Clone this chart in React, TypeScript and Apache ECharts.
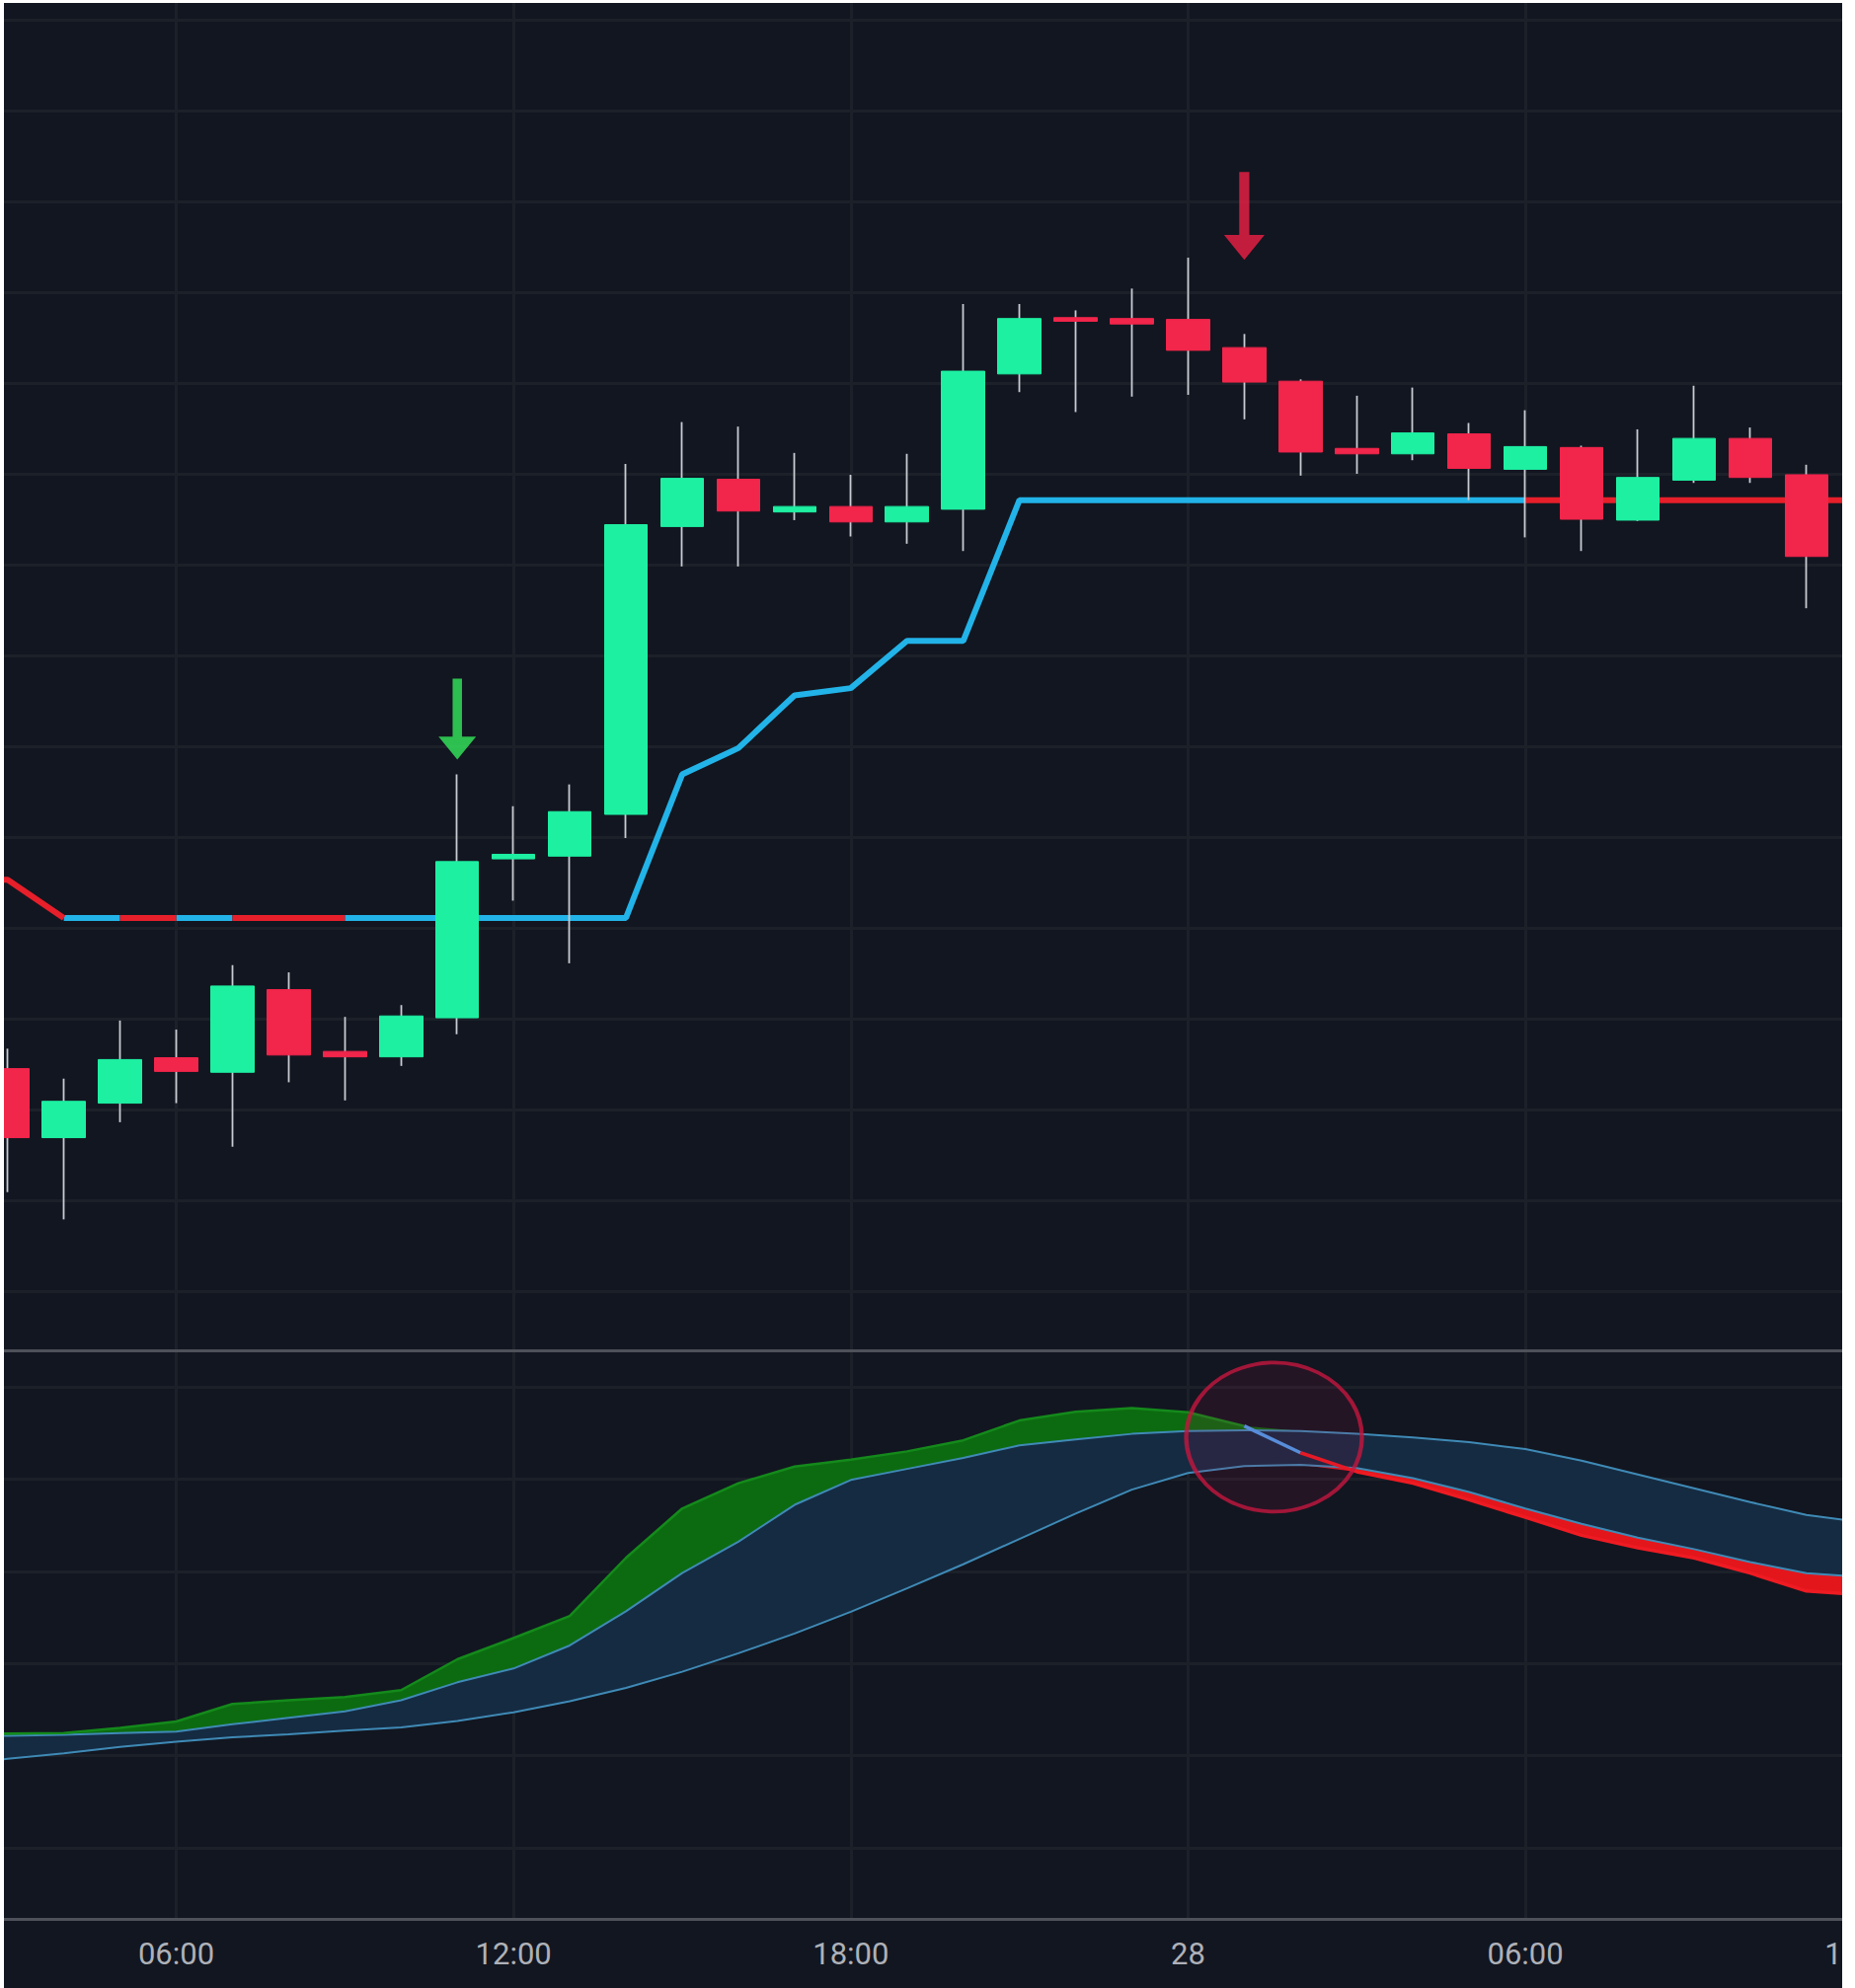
import React, { useEffect, useRef } from 'react';
import * as echarts from 'echarts';

// ---------- data (hours counted from the 27th 00:00) ----------
const candleHours = [3, 4, 5, 6, 7, 8, 9, 10, 11, 12, 13, 14, 15, 16, 17, 18, 19, 20, 21, 22, 23, 24, 25, 26, 27, 28, 29, 30, 31, 32, 33, 34, 35];
const opens = [124.5, 116.9, 120.7, 125.7, 124.1, 133.2, 126.4, 125.8, 130.1, 147.6, 147.9, 152.5, 184.2, 189.4, 185.8, 186.4, 184.7, 186.1, 201.0, 207.2, 207.1, 207.0, 203.9, 200.2, 192.8, 192.2, 194.4, 190.5, 192.9, 184.9, 189.3, 193.9, 189.9];
const closes = [116.9, 120.9, 125.5, 124.2, 133.6, 126.0, 125.8, 130.3, 147.3, 148.1, 152.8, 184.4, 189.5, 185.9, 186.4, 184.7, 186.4, 201.3, 207.1, 206.8, 206.5, 203.6, 200.1, 192.4, 192.2, 194.5, 190.6, 193.0, 185.0, 189.6, 193.9, 189.6, 180.9];
const highs = [126.7, 123.4, 129.8, 128.8, 135.9, 135.1, 130.2, 131.5, 156.9, 153.4, 155.8, 191.1, 195.7, 195.2, 192.3, 189.9, 192.2, 208.7, 208.7, 208.0, 210.4, 213.8, 205.4, 200.4, 198.6, 199.5, 195.6, 197.0, 193.1, 194.9, 199.7, 195.1, 191.0];
const lows = [110.9, 107.9, 118.6, 120.7, 115.9, 123.0, 121.0, 124.8, 128.3, 143.0, 136.1, 149.9, 179.8, 179.8, 184.9, 183.1, 182.3, 181.5, 199.0, 196.8, 198.5, 198.7, 196.0, 189.8, 190.0, 191.5, 187.1, 183.0, 181.5, 184.8, 189.0, 189.0, 175.2];

const lineHours = [2, 3, 4, 5, 6, 7, 8, 9, 10, 11, 12, 13, 14, 15, 16, 17, 18, 19, 20, 21, 22, 23, 24, 25, 26, 27, 28, 29, 30, 31, 32, 33, 34, 35, 36];
const supertrend = [145.4, 145.3, 141.1, 141.1, 141.1, 141.1, 141.1, 141.1, 141.1, 141.1, 141.1, 141.1, 141.1, 156.9, 159.8, 165.6, 166.4, 171.6, 171.6, 187.1, 187.1, 187.1, 187.1, 187.1, 187.1, 187.1, 187.1, 187.1, 187.1, 187.1, 187.1, 187.1, 187.1, 187.1, 187.1];
// trend of each segment between consecutive lineHours
const supertrendTrend = ['down', 'down', 'up', 'down', 'up', 'down', 'down',
  'up', 'up', 'up', 'up', 'up', 'up', 'up', 'up', 'up', 'up', 'up', 'up', 'up', 'up', 'up', 'up', 'up', 'up', 'up', 'up', 'up',
  'down', 'down', 'down', 'down', 'down', 'down'];

const fastLine = [-15.4, -15.2, -15.1, -14.0, -12.6, -8.8, -8.0, -7.3, -5.8, 0.9, 5.5, 10.3, 22.9, 33.6, 39.1, 42.7, 44.2, 46.0, 48.4, 52.7, 54.6, 55.4, 54.5, 51.5, 45.7, 41.6, 39.1, 35.5, 31.7, 27.8, 25.1, 22.9, 19.6, 15.7, 14.9];
const cloudUpper = [-15.9, -15.7, -15.5, -15.1, -14.8, -13.2, -11.8, -10.4, -8.0, -4.1, -1.1, 3.9, 11.3, 19.6, 26.4, 34.4, 39.8, 42.2, 44.6, 47.3, 48.6, 49.8, 50.4, 50.6, 50.4, 49.8, 49.0, 48.0, 46.5, 44.0, 41.0, 38.0, 35.0, 32.2, 30.6];
const cloudLower = [-22.0, -20.7, -19.5, -18.1, -17.0, -16.0, -15.4, -14.6, -13.9, -12.5, -10.6, -8.2, -5.3, -1.8, 2.2, 6.5, 11.2, 16.3, 21.5, 27.0, 32.5, 37.7, 41.3, 42.8, 43.1, 42.4, 40.2, 37.2, 33.6, 30.3, 27.3, 24.8, 22.0, 19.6, 18.7];
const fastTrend = ['bull', 'bull', 'bull', 'bull', 'bull', 'bull', 'bull', 'bull', 'bull', 'bull', 'bull', 'bull', 'bull', 'bull', 'bull', 'bull', 'bull', 'bull', 'bull', 'bull', 'bull', 'bull', 'bull',
  'neutral',
  'bear', 'bear', 'bear', 'bear', 'bear', 'bear', 'bear', 'bear', 'bear', 'bear'];

const buySignal = [11, 163.0];
const sellSignal = [25, 218.4];
const crossMark = [25.53, 49.1];

const tickHours = [6, 12, 18, 24, 30, 36];
const tickLabels = ['06:00', '12:00', '18:00', '28', '06:00', '12:00'];
const priceTicks = [100, 110, 120, 130, 140, 150, 160, 170, 180, 190, 200, 210, 220, 230, 240];
const oscTicks = [-40, -20, 0, 20, 40, 60];

// ---------- styling / layout ----------
const BG = '#121620';
const GRID_COLOR = '#1c2029';
const SEP_COLOR = '#4e5159';
const UP = '#1ef0a2';
const DOWN = '#f2254b';
const WICK = '#c8cbd1';
const ST_UP = '#22b3e8';
const ST_DOWN = '#e61f2a';
const CLOUD_LINE = '#3f8ab6';
const CLOUD_FILL = '#152b42';
const BULL_FILL = '#0c6b10';
const BEAR_FILL = '#e3161c';

const CHART_W = 1960;
const CHART_H = 2011;
const VISIBLE_W = 1862;
const PX_PER_HOUR = 56.94;
const X_MIN = 2.935;
const X_MAX = X_MIN + CHART_W / PX_PER_HOUR;

function segmentData(xs: number[], ys: number[], segs: string[], key: string) {
  const out: any[] = [];
  for (let k = 0; k < segs.length; k++) {
    if (segs[k] !== key) continue;
    const prevSame = k > 0 && segs[k - 1] === key;
    if (!prevSame) {
      if (out.length) out.push([xs[k], null]);
      out.push([xs[k], ys[k]]);
    }
    out.push([xs[k + 1], ys[k + 1]]);
  }
  return out;
}

// filled band between two oscillator lines, drawn as one polygon through the axes' scales
function bandSeries(lower: number[], upper: number[], color: string, z: number) {
  return {
    type: 'custom', xAxisIndex: 1, yAxisIndex: 1, z, silent: true,
    data: lineHours.map((t, i) => [t, lower[i], upper[i]]),
    encode: { x: 0, y: [1, 2] },
    renderItem: (params: any, api: any) => {
      if (params.dataIndex !== 0) return null;
      const top = lineHours.map((t, i) => api.coord([t, upper[i]]));
      const bottom = lineHours.map((t, i) => api.coord([t, lower[i]])).reverse();
      return { type: 'polygon', shape: { points: top.concat(bottom) }, style: { fill: color } };
    },
  };
}

function buildOption() {
  const wickData = candleHours.map((t, i) => [t, opens[i], closes[i], lows[i], highs[i]]);
  const bodyData = candleHours.map((t, i) => [t, opens[i], closes[i], Math.min(opens[i], closes[i]), Math.max(opens[i], closes[i])]);

  const pairs = (arr: number[]) => lineHours.map((t, i) => [t, arr[i]]);
  const bullTop = fastLine.map((v, i) => Math.max(v, cloudUpper[i]));
  const bearBottom = fastLine.map((v, i) => Math.min(v, cloudLower[i]));

  const labelFor = (v: number) => {
    const idx = tickHours.indexOf(Math.round(v));
    return idx >= 0 ? tickLabels[idx] : '';
  };

  const arrowPath = 'path://M15,0L25,0L25,61L40,61L20,85L0,61L15,61Z';

  const xAxisCommon = {
    type: 'value', min: X_MIN, max: X_MAX,
    axisLine: { show: true, onZero: false, lineStyle: { color: SEP_COLOR, width: 3 } },
    axisTick: { show: false, customValues: tickHours },
    splitLine: { show: true, lineStyle: { color: GRID_COLOR, width: 3 } },
  };

  const lineBase = { type: 'line', silent: true, showSymbol: false, symbol: 'none', connectNulls: false };

  return {
    animation: false,
    backgroundColor: BG,
    grid: [
      { left: 0, top: 0, width: CHART_W, height: 1365 },
      { left: 0, top: 1365, width: CHART_W, height: 576 },
    ],
    xAxis: [
      { ...xAxisCommon, gridIndex: 0, axisLabel: { show: false, customValues: tickHours } },
      {
        ...xAxisCommon, gridIndex: 1,
        axisLabel: {
          show: true, customValues: tickHours, formatter: labelFor,
          color: '#aeb1b8', fontSize: 31, fontFamily: 'Roboto', margin: 20,
        },
      },
    ],
    yAxis: [
      {
        type: 'value', gridIndex: 0, min: 93.48, max: 241.85,
        axisLine: { show: false }, axisLabel: { show: false },
        axisTick: { show: false, customValues: priceTicks },
        splitLine: { show: true, lineStyle: { color: GRID_COLOR, width: 3 } },
      },
      {
        type: 'value', gridIndex: 1, min: -55.42, max: 67.92,
        axisLine: { show: false }, axisLabel: { show: false },
        axisTick: { show: false, customValues: oscTicks },
        splitLine: { show: true, lineStyle: { color: GRID_COLOR, width: 3 } },
      },
    ],
    series: [
      // supertrend
      {
        ...lineBase, xAxisIndex: 0, yAxisIndex: 0, z: 2,
        data: segmentData(lineHours, supertrend, supertrendTrend, 'up'),
        lineStyle: { color: ST_UP, width: 6 },
      },
      {
        ...lineBase, xAxisIndex: 0, yAxisIndex: 0, z: 2,
        data: segmentData(lineHours, supertrend, supertrendTrend, 'down'),
        lineStyle: { color: ST_DOWN, width: 6 },
      },
      // candle wicks
      {
        type: 'candlestick', xAxisIndex: 0, yAxisIndex: 0, z: 3, silent: true,
        dimensions: ['t', 'open', 'close', 'lowest', 'highest'],
        encode: { x: 't', y: ['open', 'close', 'lowest', 'highest'] },
        barWidth: 1,
        itemStyle: { color: WICK, color0: WICK, borderColor: WICK, borderColor0: WICK, borderWidth: 1.8 },
        data: wickData,
      },
      // candle bodies
      {
        type: 'candlestick', xAxisIndex: 0, yAxisIndex: 0, z: 4, silent: true,
        dimensions: ['t', 'open', 'close', 'lowest', 'highest'],
        encode: { x: 't', y: ['open', 'close', 'lowest', 'highest'] },
        barWidth: 44,
        itemStyle: { color: UP, color0: DOWN, borderColor: UP, borderColor0: DOWN, borderWidth: 1 },
        data: bodyData,
      },
      // signal arrows
      {
        type: 'scatter', xAxisIndex: 0, yAxisIndex: 0, z: 5, silent: true,
        symbol: arrowPath, symbolSize: [38, 82],
        itemStyle: { color: '#34ea5c' },
        data: [buySignal],
      },
      {
        type: 'scatter', xAxisIndex: 0, yAxisIndex: 0, z: 5, silent: true,
        symbol: arrowPath, symbolSize: [41, 89],
        itemStyle: { color: '#f01f45' },
        data: [sellSignal],
      },
      // oscillator bands
      bandSeries(cloudLower, cloudUpper, CLOUD_FILL, 1),
      bandSeries(cloudUpper, bullTop, BULL_FILL, 2),
      bandSeries(bearBottom, cloudLower, BEAR_FILL, 2),
      // cloud lines
      {
        ...lineBase, xAxisIndex: 1, yAxisIndex: 1, z: 4,
        data: pairs(cloudUpper), lineStyle: { color: CLOUD_LINE, width: 2 },
      },
      {
        ...lineBase, xAxisIndex: 1, yAxisIndex: 1, z: 4,
        data: pairs(cloudLower), lineStyle: { color: CLOUD_LINE, width: 2 },
      },
      // fast line, coloured by state
      {
        ...lineBase, xAxisIndex: 1, yAxisIndex: 1, z: 5,
        data: segmentData(lineHours, fastLine, fastTrend, 'bull'),
        lineStyle: { color: '#148a1b', width: 2.5 },
      },
      {
        ...lineBase, xAxisIndex: 1, yAxisIndex: 1, z: 5,
        data: segmentData(lineHours, fastLine, fastTrend, 'neutral'),
        lineStyle: { color: '#4d9fee', width: 3.5 },
      },
      {
        ...lineBase, xAxisIndex: 1, yAxisIndex: 1, z: 5,
        data: segmentData(lineHours, fastLine, fastTrend, 'bear'),
        lineStyle: { color: '#ee1b22', width: 3.5 },
      },
      // highlighted crossover
      {
        type: 'scatter', xAxisIndex: 1, yAxisIndex: 1, z: 6, silent: true,
        symbol: 'circle', symbolSize: [178, 151],
        itemStyle: { color: 'rgba(170, 20, 70, 0.15)', borderColor: '#c4173f', borderWidth: 4 },
        data: [crossMark],
      },
    ],
  };
}

export default function App() {
  const ref = useRef<HTMLDivElement>(null);
  useEffect(() => {
    if (!ref.current) return;
    const chart = echarts.init(ref.current, null, { renderer: 'svg' });
    chart.setOption(buildOption() as any);
    return () => chart.dispose();
  }, []);
  return (
    <div style={{ position: 'absolute', left: 0, top: 0, width: 1879, height: 2014, background: '#ffffff', overflow: 'hidden' }}>
      <div style={{ position: 'absolute', left: 4, top: 3, width: VISIBLE_W, height: CHART_H, overflow: 'hidden', background: BG }}>
        <div ref={ref} style={{ width: CHART_W, height: CHART_H }} />
      </div>
    </div>
  );
}
